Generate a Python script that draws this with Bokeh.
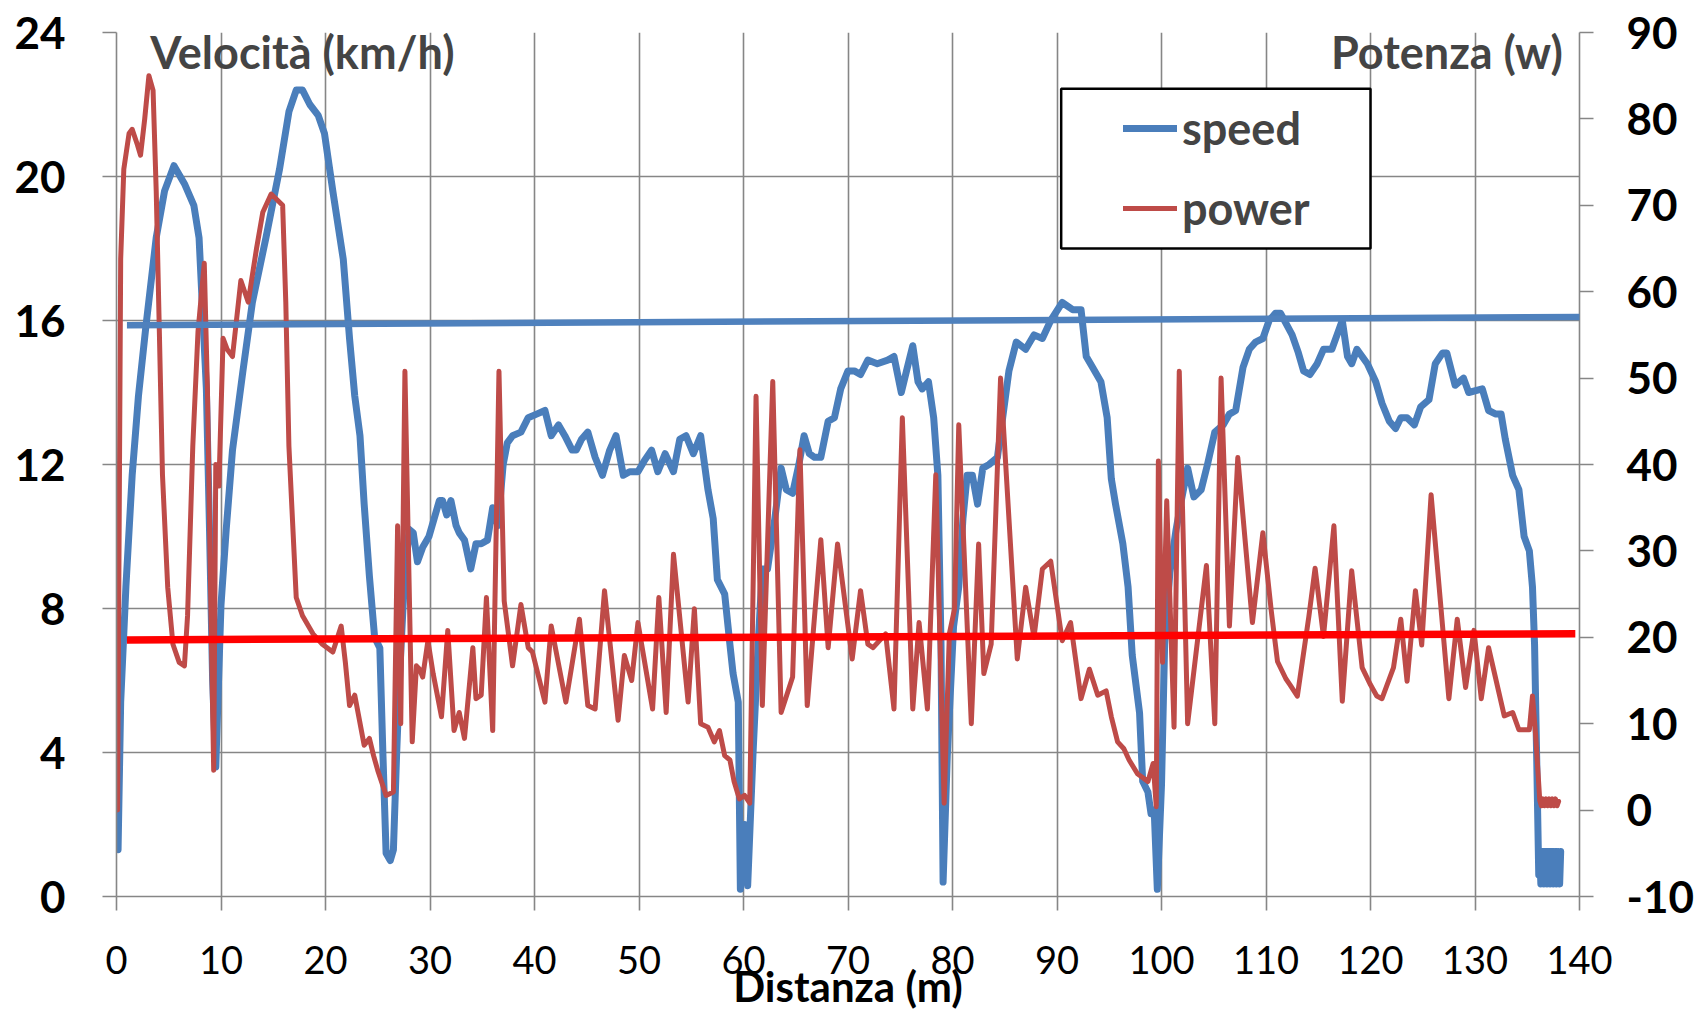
from bokeh.plotting import figure
from bokeh.models import (Range1d, LinearAxis, Label, BoxAnnotation, Legend,
                          LegendItem, Arrow, FixedTicker)
from bokeh.embed import file_html
from bokeh.resources import INLINE

# ---------------- data ----------------
speed_x = [0.15, 0.4, 0.9, 1.5, 2.1, 2.8, 3.8, 4.6, 5.5, 6.5, 7.4, 7.9, 8.2, 8.6, 8.9,
           9.2, 9.5, 10.0, 10.5, 11.1, 12.1, 13.0, 14.3, 15.6, 16.5, 17.2, 17.8, 18.5,
           19.3, 19.9, 20.7, 21.7, 22.3, 22.8, 23.3, 23.7, 24.2, 24.7, 25.2, 25.5, 25.8,
           26.2, 26.5, 26.8, 27.1, 27.5, 28.0, 28.4, 28.8, 29.3, 29.9, 30.4, 30.9, 31.2,
           31.6, 32.0, 32.5, 32.8, 33.3, 33.9, 34.4, 34.9, 35.5, 36.0, 36.5, 37.0, 37.4,
           37.9, 38.7, 39.4, 40.2, 41.0, 41.6, 42.3, 42.9, 43.6, 44.0, 44.5, 45.1, 45.8,
           46.5, 47.2, 47.8, 48.5, 49.1, 49.9, 50.5, 51.2, 51.8, 52.5, 53.3, 53.9, 54.5,
           55.2, 55.9, 56.6, 57.1, 57.5, 58.2, 58.7, 59.0, 59.5, 59.7, 60.1, 60.4, 60.9,
           61.4, 61.8, 62.3, 63.0, 63.6, 64.1, 64.7, 65.3, 65.8, 66.3, 66.8, 67.4, 68.1,
           68.7, 69.3, 70.0, 70.6, 71.2, 71.9, 72.8, 73.8, 74.4, 75.1, 75.6, 76.2, 76.7,
           77.1, 77.7, 78.2, 78.6, 78.9, 79.1, 79.5, 80.1, 80.6, 81.0, 81.4, 81.9, 82.4,
           82.9, 83.5, 84.3, 84.8, 85.4, 86.1, 87.0, 87.8, 88.6, 89.4, 90.5, 91.5, 92.3,
           92.8, 93.4, 94.2, 94.8, 95.2, 95.6, 96.3, 96.8, 97.2, 97.9, 98.2, 98.7, 99.0,
           99.3, 99.6, 100.0, 100.3, 100.8, 101.4, 101.9, 102.5, 103.1, 103.8, 104.4,
           105.1, 105.9, 106.5, 107.1, 107.8, 108.4, 109.0, 109.7, 110.3, 110.9, 111.4,
           112.5, 113.1, 113.6, 114.2, 114.9, 115.5, 116.3, 116.8, 117.3, 117.8, 118.2,
           118.7, 119.7, 120.5, 121.1, 121.8, 122.4, 122.9, 123.5, 124.2, 124.8, 125.6,
           126.2, 126.9, 127.3, 128.1, 128.9, 129.4, 130.7, 131.3, 132.0, 132.5, 132.9,
           133.6, 134.2, 134.7, 135.2, 135.5, 135.7, 135.9, 136.1,
           136.2, 136.3, 136.45, 136.6, 136.75, 136.9, 137.05, 137.2, 137.35, 137.5,
           137.65, 137.8, 137.95, 138.1, 138.2]
speed_kmh = [1.3, 5.4, 8.6, 11.7, 13.9, 15.8, 18.3, 19.6, 20.3, 19.8, 19.2, 18.3, 16.5, 14.1, 10.2,
             6.0, 3.6, 8.1, 10.2, 12.4, 14.6, 16.5, 18.3, 20.2, 21.8, 22.4, 22.4, 22.0,
             21.7, 21.2, 19.6, 17.7, 15.5, 13.9, 12.8, 10.9, 8.9, 7.2, 6.9, 3.9, 1.2,
             1.0, 1.3, 3.9, 6.2, 8.5, 10.2, 10.1, 9.3, 9.7, 10.0, 10.5, 11.0, 11.0,
             10.6, 11.0, 10.3, 10.1, 9.9, 9.1, 9.8, 9.8, 9.9, 10.8, 10.3, 12.0, 12.6,
             12.8, 12.9, 13.3, 13.4, 13.5, 12.8, 13.1, 12.8, 12.4, 12.4, 12.7, 12.9, 12.2,
             11.7, 12.4, 12.8, 11.7, 11.8, 11.8, 12.1, 12.4, 11.8, 12.3, 11.8, 12.7, 12.8,
             12.3, 12.8, 11.3, 10.5, 8.8, 8.4, 7.0, 6.2, 5.4, 0.2, 2.0, 0.3, 3.9,
             7.0, 9.1, 9.1, 10.5, 11.9, 11.3, 11.2, 12.0, 12.8, 12.3, 12.2, 12.2, 13.2,
             13.3, 14.1, 14.6, 14.6, 14.5, 14.9, 14.8, 14.9, 15.0, 14.0, 14.6, 15.3, 14.3,
             14.1, 14.3, 13.3, 11.7, 7.0, 0.4, 3.9, 7.5, 8.6, 10.5, 11.7, 11.7, 10.9,
             11.9, 12.0, 12.2, 13.3, 14.6, 15.4, 15.2, 15.6, 15.5, 16.0, 16.5, 16.3, 16.3,
             15.0, 14.7, 14.3, 13.3, 11.6, 10.9, 9.8, 8.6, 6.7, 5.1, 3.2, 2.9, 2.3,
             2.4, 0.2, 3.1, 7.0, 9.0, 10.2, 11.0, 11.9, 11.1, 11.3, 12.0,
             12.9, 13.1, 13.4, 13.5, 14.7, 15.2, 15.4, 15.5, 16.0, 16.2, 16.2,
             15.6, 15.1, 14.6, 14.5, 14.8, 15.2, 15.2, 15.6, 16.0, 15.0, 14.8,
             15.2, 14.8, 14.3, 13.7, 13.2, 13.0, 13.3, 13.3, 13.1, 13.6, 13.8,
             14.8, 15.1, 15.1, 14.2, 14.4, 14.0, 14.1, 13.5, 13.4, 13.4, 12.7,
             11.7, 11.3, 10.0, 9.6, 8.6, 7.0, 3.9, 0.6,
             1.25, 0.35, 1.25, 0.35, 1.25, 0.35, 1.25, 0.35, 1.25, 0.35,
             1.25, 0.35, 1.25, 0.35, 1.25]

power_x = [0.1, 0.4, 0.7, 1.2, 1.5, 2.0, 2.3, 2.7, 3.1, 3.5, 3.8, 4.1, 4.4, 4.9, 5.4,
           6.0, 6.5, 6.8, 7.3, 7.8, 8.4, 8.7, 9.0, 9.3, 9.5, 9.8, 10.2, 10.6, 11.1,
           11.9, 12.6, 13.4, 14.0, 14.8, 15.9, 16.2, 16.5, 17.2, 17.8, 18.8, 19.7, 20.7,
           21.5, 21.9, 22.3, 22.8, 23.7, 24.2, 24.6, 25.0, 25.8, 26.5, 26.9, 27.2, 27.6,
           28.3, 28.7, 29.0, 29.3, 29.8, 30.3, 31.1, 31.7, 32.3, 32.8, 33.3, 34.1, 34.4,
           34.9, 35.4, 36.0, 36.6, 37.1, 37.9, 38.7, 39.4, 39.8, 41.0, 41.6, 43.0, 44.3,
           45.1, 45.8, 46.7, 48.0, 48.6, 49.3, 49.9, 51.3, 51.9, 52.6, 53.3, 54.7, 55.3,
           55.9, 56.6, 57.2, 57.7, 58.2, 58.7, 59.1, 59.6, 60.1, 60.6, 61.2, 61.8, 62.8,
           63.6, 64.7, 65.4, 66.1, 67.4, 68.1, 69.0, 70.4, 71.2, 71.9, 72.4, 73.6, 74.4,
           75.2, 76.2, 76.8, 77.6, 78.4, 79.2, 79.7, 80.2, 80.6, 81.8, 82.5, 83.0, 83.7,
           84.6, 86.2, 87.0, 87.8, 88.6, 89.4, 90.5, 91.3, 92.3, 93.1, 93.9, 94.7, 95.2,
           95.8, 96.4, 96.9, 97.7, 98.7, 99.2, 99.5, 99.7, 100.1, 100.5, 101.2, 101.7,
           102.5, 104.3, 105.1, 105.7, 106.5, 107.3, 108.7, 109.7, 110.5, 111.1, 111.9,
           112.3, 113.0, 114.1, 114.7, 115.5, 116.5, 117.3, 118.2, 119.2, 120.0, 120.6,
           121.1, 122.2, 122.9, 123.5, 124.3, 124.9, 125.8, 127.5, 128.3, 129.1, 129.9,
           130.6, 131.3, 132.8, 133.6, 134.2, 135.2, 135.5, 135.8, 136.2,
           136.35, 136.5, 136.65, 136.8, 136.95, 137.1, 137.25, 137.4, 137.55, 137.7,
           137.85, 138.0]
power_w = [0.0, 63.8, 74.2, 78.3, 78.8, 77.0, 75.8, 80.0, 85.0, 83.3, 71.7, 55.4, 38.8, 25.8, 19.2,
           17.1, 16.7, 22.5, 42.1, 55.4, 63.3, 48.8, 25.8, 4.6, 40.0, 37.5, 54.6, 53.3, 52.5,
           61.3, 58.8, 65.0, 69.2, 71.3, 70.0, 58.8, 42.1, 24.6, 22.5, 20.4, 19.2, 18.3,
           21.3, 17.1, 12.1, 13.3, 7.5, 8.3, 6.3, 4.6, 1.7, 2.1, 32.9, 10.0, 50.8,
           7.9, 16.7, 16.3, 15.4, 19.6, 15.8, 10.8, 20.8, 9.2, 11.3, 8.3, 18.8, 12.9,
           13.3, 24.6, 9.2, 50.8, 24.2, 16.7, 23.8, 18.8, 18.3, 12.5, 21.3, 12.5, 22.1,
           12.1, 11.7, 25.4, 10.4, 17.9, 15.0, 21.7, 11.7, 24.6, 11.3, 29.6, 12.5, 23.3,
           10.0, 9.6, 7.9, 9.2, 6.3, 5.8, 3.3, 1.3, 1.7, 0.8, 47.9, 12.1, 49.6,
           11.3, 15.4, 41.7, 12.1, 31.3, 18.8, 30.8, 17.5, 25.4, 19.2, 18.8, 20.4, 11.7,
           45.4, 11.7, 21.7, 11.7, 38.8, 0.8, 20.4, 23.3, 44.6, 10.0, 30.8, 15.8, 19.2,
           50.0, 17.5, 25.8, 20.0, 27.9, 28.8, 19.6, 21.7, 12.9, 16.3, 13.3, 13.8, 10.8,
           7.9, 7.1, 5.8, 4.2, 3.3, 5.4, 0.4, 40.4, 17.1, 35.8, 9.6, 50.8,
           10.0, 28.3, 10.0, 50.0, 21.3, 40.8, 21.7, 32.1, 23.1, 17.2, 15.2,
           14.5, 13.2, 22.4, 28.0, 20.1, 32.9, 12.6, 27.7, 16.5, 14.5, 13.2,
           12.9, 16.5, 22.1, 14.9, 25.4, 19.1, 36.5, 12.9, 22.1, 14.2, 20.8,
           12.9, 18.8, 10.9, 11.3, 9.3, 9.3, 13.2, 8.7, 1.1,
           0.5, 1.3, 0.5, 1.3, 0.5, 1.3, 0.5, 1.3, 0.5, 1.3,
           0.5, 1.0]

# linear trend lines (end points)
speed_trend_x = [1.0, 142.5]
speed_trend = [15.87, 16.1]
power_trend_x = [1.0, 139.6]
power_trend = [19.7, 20.4]

x_ticks = [0, 10, 20, 30, 40, 50, 60, 70, 80, 90, 100, 110, 120, 130, 140]
speed_ticks = [0, 4, 8, 12, 16, 20, 24]
power_ticks = [-10, 0, 10, 20, 30, 40, 50, 60, 70, 80, 90]
power_tick_labels = {t: str(t) for t in power_ticks}

# ---------------- styling ----------------
GRID = "#868686"
FONT = "Lato"
SPEED_C = "#4A7EBB"
POWER_C = "#BE4B48"

p = figure(width=1699, height=1013, x_range=Range1d(0, 140), y_range=Range1d(0, 24),
           output_backend="svg", toolbar_location=None,
           min_border_left=116, min_border_right=120, min_border_top=32,
           min_border_bottom=117)
p.extra_y_ranges = {"power": Range1d(-10, 90)}
p.outline_line_color = None
p.background_fill_color = "white"
p.border_fill_color = "white"

p.xaxis.ticker = FixedTicker(ticks=x_ticks)
p.yaxis.ticker = FixedTicker(ticks=speed_ticks)
p.xgrid.ticker = FixedTicker(ticks=x_ticks)
p.ygrid.ticker = FixedTicker(ticks=speed_ticks)
for g in (p.xgrid, p.ygrid):
    g.grid_line_color = GRID
    g.grid_line_width = 1.6

right = LinearAxis(y_range_name="power", ticker=FixedTicker(ticks=power_ticks),
                   major_label_overrides=power_tick_labels)
p.add_layout(right, "right")

for ax in (p.xaxis[0], p.yaxis[0], right):
    ax.axis_line_color = GRID
    ax.axis_line_width = 1.6
    ax.major_tick_line_color = GRID
    ax.major_tick_line_width = 1.6
    ax.major_tick_out = 14
    ax.major_tick_in = 0
    ax.minor_tick_out = 0
    ax.minor_tick_in = 0
    ax.major_label_text_font = FONT
    ax.major_label_text_color = "black"

for ax in (p.yaxis[0], right):
    ax.major_label_text_font_style = "bold"
    ax.major_label_text_font_size = "44px"
p.yaxis[0].major_label_standoff = 37
right.major_label_standoff = 33

xa = p.xaxis[0]
xa.major_label_text_font_size = "38px"
xa.major_label_standoff = 35
xa.axis_label = "Distanza (m)"
xa.axis_label_text_font = FONT
xa.axis_label_text_font_style = "bold"
xa.axis_label_text_font_size = "42px"
xa.axis_label_text_color = "black"
xa.axis_label_standoff = -16

# ---------------- series ----------------
r_speed = p.line(speed_x, speed_kmh, line_color=SPEED_C, line_width=7,
                 line_join="round", line_cap="round")
r_power = p.line(power_x, power_w, y_range_name="power", line_color=POWER_C,
                 line_width=5, line_join="round", line_cap="round")

# linear trend lines
p.add_layout(Arrow(end=None, x_start=speed_trend_x[0], y_start=speed_trend[0],
                   x_end=speed_trend_x[1], y_end=speed_trend[1],
                   line_color="#4F81BD", line_width=6.5))
p.add_layout(Arrow(end=None, x_start=power_trend_x[0], y_start=power_trend[0],
                   x_end=power_trend_x[1], y_end=power_trend[1],
                   y_range_name="power", line_color="#FF0000", line_width=7.5))

# ---------------- legend ----------------
p.add_layout(BoxAnnotation(left=90.4, right=120.0, top=22.44, bottom=18.0,
                           fill_color="white", fill_alpha=1.0,
                           line_color="black", line_alpha=1.0, line_width=2.5))
legend = Legend(items=[LegendItem(label="speed", renderers=[r_speed]),
                       LegendItem(label="power", renderers=[r_power])],
                location=(1007, 660), padding=0, margin=0, spacing=24,
                glyph_width=54, glyph_height=56, label_height=56, label_standoff=5,
                border_line_color=None, background_fill_alpha=0,
                label_text_font=FONT, label_text_font_style="bold",
                label_text_font_size="45px")
p.add_layout(legend)

# ---------------- texts ----------------
p.add_layout(Label(x=3.22, y=23.47, text="Velocità (km/h)", text_font=FONT,
                   text_font_style="bold", text_font_size="45px",
                   text_align="left", text_baseline="alphabetic"))
p.add_layout(Label(x=138.4, y=23.47, text="Potenza (w)", text_font=FONT,
                   text_font_style="bold", text_font_size="45px",
                   text_align="right", text_baseline="alphabetic"))

open("out.html", "w").write(file_html(p, INLINE))
